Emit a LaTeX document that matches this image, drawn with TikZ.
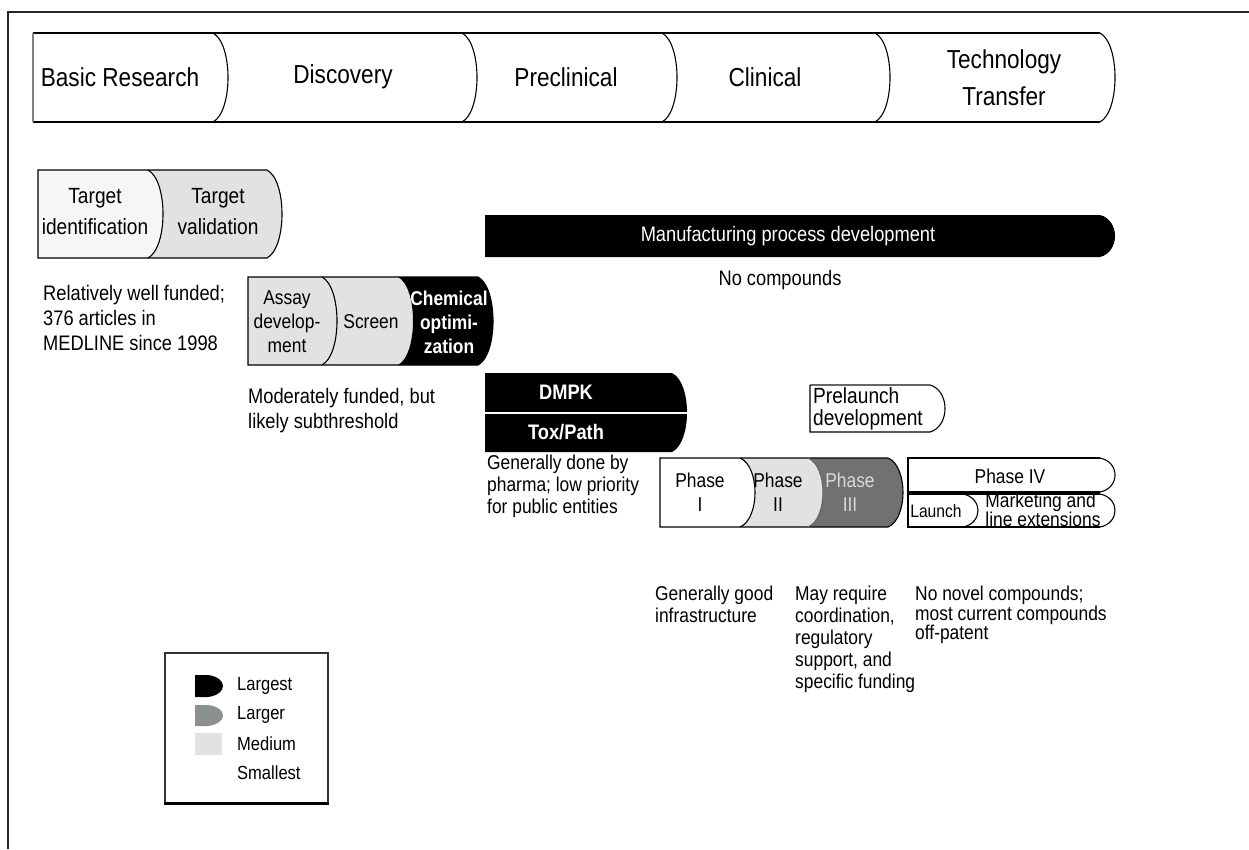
\documentclass[tikz,border=0pt]{standalone}
\usepackage{fontspec}
\setmainfont{Liberation Sans}[FakeStretch=0.87]
\definecolor{smallc}{HTML}{F6F6F6}
\definecolor{medc}{HTML}{E2E2E2}
\definecolor{largec}{HTML}{717171}
\definecolor{legc}{HTML}{8A928E}
% right-bulging curve going down from (x,yt) to (x,yb)
\newcommand{\cdown}[3]{.. controls ({#1+20},{#2+0.12*(#3-#2)}) and ({#1+20},{#3-0.12*(#3-#2)}) .. (#1,#3)}
% same curve, travelled upwards from (x,yb) to (x,yt)
\newcommand{\curveup}[3]{.. controls ({#1+20},{#3-0.12*(#3-#2)}) and ({#1+20},{#2+0.12*(#3-#2)}) .. (#1,#2)}
\tikzset{
  outl/.style={draw=black, line width=1.1pt},
  frameline/.style={draw=black!85, line width=1.6pt},
  tx/.style={inner sep=0pt, text=black, align=center},
  tbar/.style={tx, font=\fontsize{26}{37}\selectfont},
  ttar/.style={tx, font=\fontsize{22}{31}\selectfont},
  note/.style={tx, align=left, anchor=north west, font=\fontsize{21}{25}\selectfont},
  bnote/.style={tx, align=left, anchor=north west, font=\fontsize{20}{22}\selectfont},
  inbox/.style={tx, font=\fontsize{20}{24}\selectfont},
  wbold/.style={tx, text=white, font=\bfseries\fontsize{20}{24}\selectfont},
  legtx/.style={tx, anchor=west, font=\fontsize{19}{22}\selectfont},
}
\begin{document}
\begin{tikzpicture}[x=1pt,y=-1pt]
\useasboundingbox (0,0) rectangle (1249,849);
\fill[white] (0,0) rectangle (1249,849);
% frame
\coordinate (ftr) at (1249,12);
\coordinate (ftl) at (8,12);
\coordinate (fbl) at (8,849);
\draw[frameline] (ftr) -- (ftl) -- (fbl);

% ---------- top bar ----------
\draw[outl] (33,33) -- (1100,33);
\draw[outl] (33,122) -- (1100,122);
\draw[outl, draw=black!50] (33,33) -- (33,122);
\foreach \c in {213,462,662,875,1100} {\draw[outl] (\c,33) \cdown{\c}{33}{122};}
\node[tbar] (br) at (120,77) {Basic Research};
\node[tbar] (disc) at (343,77) {Discovery};
\node[tbar] (precl) at (566,77) {Preclinical};
\node[tbar] (clin) at (765,77) {Clinical};
\node[tbar] (tt) at (1004,78) {Technology\\Transfer};

% ---------- target box ----------
\fill[smallc] (38,170) -- (148,170) \cdown{148}{170}{258} -- (38,258) -- cycle;
\fill[medc] (148,170) -- (267,170) \cdown{267}{170}{258} -- (148,258) \curveup{148}{170}{258} -- cycle;
\draw[outl] (38,170) -- (267,170) \cdown{267}{170}{258} -- (38,258) -- cycle;
\draw[outl] (148,170) \cdown{148}{170}{258};
\node[ttar] (tid) at (95,212) {Target\\identification};
\node[ttar] (tval) at (218,212) {Target\\validation};
\node[note] (n1) at (43,285) {Relatively well funded;\\376 articles in\\MEDLINE since 1998};

% ---------- assay box ----------
\fill[medc] (248,277) -- (322,277) \cdown{322}{277}{365} -- (248,365) -- cycle;
\fill[medc] (322,277) -- (398,277) \cdown{398}{277}{365} -- (322,365) \curveup{322}{277}{365} -- cycle;
\fill[black] (398,277) -- (478,277) \cdown{478}{277}{365} -- (398,365) \curveup{398}{277}{365} -- cycle;
\draw[outl] (248,277) -- (478,277) \cdown{478}{277}{365} -- (248,365) -- cycle;
\draw[outl] (322,277) \cdown{322}{277}{365};
\node[inbox] (assay) at (287,322) {Assay\\develop-\\ment};
\node[inbox] (screen) at (371,322) {Screen};
\node[wbold] (chem) at (449,322) {Chemical\\optimi-\\zation};
\node[note] (n2) at (248,388) {Moderately funded, but\\likely subthreshold};

% ---------- manufacturing ----------
\fill[black] (485,215) -- (1100,215) \cdown{1100}{215}{257} -- (485,257) -- cycle;
\node[tx, text=white, font=\fontsize{21}{24}\selectfont] (manu) at (788,236) {Manufacturing process development};
\node[tx, font=\fontsize{21}{24}\selectfont] (nocomp) at (780,280) {No compounds};

% ---------- DMPK / Tox ----------
\fill[black] (485,373) -- (672,373) \cdown{672}{373}{452} -- (485,452) -- cycle;
\draw[white, line width=2pt] (485,412.5) -- (700,412.5);
\node[wbold, font=\bfseries\fontsize{21}{24}\selectfont] (dmpk) at (566,392) {DMPK};
\node[wbold, font=\bfseries\fontsize{21}{24}\selectfont] (tox) at (566,432) {Tox/Path};
\node[note, font=\fontsize{20}{22}\selectfont] (n3) at (487,455) {Generally done by\\pharma; low priority\\for public entities};

% ---------- prelaunch ----------
\draw[outl, draw=black!60] (930,385) -- (810,385);
\draw[outl] (810,385) -- (810,432) -- (930,432) \curveup{930}{385}{432};
\node[tx, align=left, anchor=west, font=\fontsize{22}{22}\selectfont] (prel) at (813,409) {Prelaunch\\development};

% ---------- phases ----------
\fill[white] (660,458) -- (740,458) \cdown{740}{458}{527} -- (660,527) -- cycle;
\fill[medc] (740,458) -- (808,458) \cdown{808}{458}{527} -- (740,527) \curveup{740}{458}{527} -- cycle;
\fill[largec] (808,458) -- (888,458) \cdown{888}{458}{527} -- (808,527) \curveup{808}{458}{527} -- cycle;
\draw[outl] (660,458) -- (888,458) \cdown{888}{458}{527} -- (660,527) -- cycle;
\draw[outl] (740,458) \cdown{740}{458}{527};
\draw[outl, draw=black!60] (808,458) \cdown{808}{458}{527};
\node[inbox] (p1) at (700,492) {Phase\\I};
\node[inbox] (p2) at (778,492) {Phase\\II};
\node[inbox, text=black!15] (p3) at (850,492) {Phase\\III};

\draw[outl] (1100,458) -- (908,458) -- (908,492) -- (1100,492);
\draw[outl] (1100,458) \cdown{1100}{458}{492};
\node[tx, font=\fontsize{20}{22}\selectfont] (p4) at (1010,476) {Phase IV};
\draw[outl] (1100,494) -- (908,494) -- (908,527) -- (1100,527);
\draw[outl] (1100,494) \cdown{1100}{494}{527};
\draw[outl] (963,494) \cdown{963}{494}{527};
\node[tx, font=\fontsize{18}{20}\selectfont] (launch) at (936,511) {Launch};
\node[tx, align=left, font=\fontsize{20}{17}\selectfont] (mkt) at (1043,510) {Marketing and\\line extensions};

% ---------- bottom notes ----------
\node[bnote] (n4) at (655,586) {Generally good\\infrastructure};
\node[bnote] (n5) at (795,586) {May require\\coordination,\\regulatory\\support, and\\specific funding};
\node[bnote, font=\fontsize{20}{17}\selectfont] (n6) at (915,586) {No novel compounds;\\most current compounds\\off-patent};

% ---------- legend ----------
\draw[draw=black!80, line width=1.3pt] (165,803) -- (165,653) -- (328,653) -- (328,803);
\draw[draw=black, line width=3pt] (164,803) -- (329,803);
\fill[black] (195,675) -- (208,675) \cdown{208}{675}{697} -- (195,697) -- cycle;
\fill[legc] (195,705) -- (208,705) \cdown{208}{705}{726} -- (195,726) -- cycle;
\fill[medc] (195,733) rectangle (222,755);
\node[legtx] (l1) at (237,686) {Largest};
\node[legtx] (l2) at (237,715) {Larger};
\node[legtx] (l3) at (237,744) {Medium};
\node[legtx] (l4) at (237,773) {Smallest};
\end{tikzpicture}
\end{document}
